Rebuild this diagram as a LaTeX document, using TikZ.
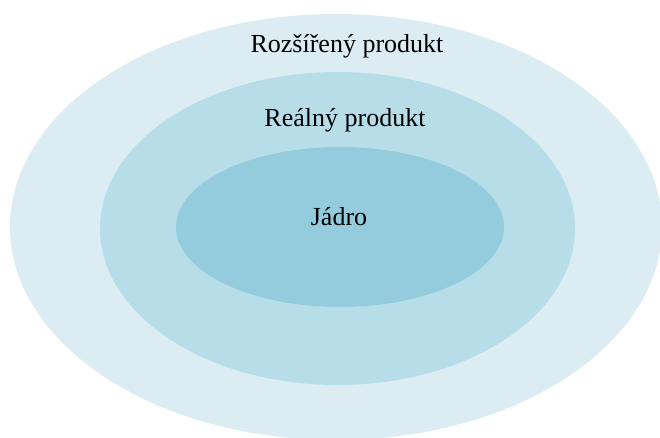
\documentclass[tikz,border=0pt]{standalone}
\usepackage{fontspec}
\setmainfont{Liberation Serif}
\definecolor{outerc}{RGB}{219,237,243}
\definecolor{midc}{RGB}{183,222,232}
\definecolor{innerc}{RGB}{148,204,221}
\begin{document}
\begin{tikzpicture}[x=1pt,y=-1pt,
  lbl/.style={font=\fontsize{26}{30}\selectfont, text=black, inner sep=0pt}]
\useasboundingbox (0,0) rectangle (660,437);
\begin{scope}
\clip (0,0) rectangle (660,437);
\fill[outerc] (336,227) ellipse [x radius=326, y radius=213];
\fill[midc] (337.5,228.5) ellipse [x radius=237.5, y radius=156.5];
\fill[innerc] (340,227) ellipse [x radius=164, y radius=80];
\end{scope}
\node[lbl] (ext) at (347,46) {Rozšířený produkt};
\node[lbl] (real) at (345,120) {Reálný produkt};
\node[lbl] (core) at (339,217) {Jádro};
\end{tikzpicture}
\end{document}
